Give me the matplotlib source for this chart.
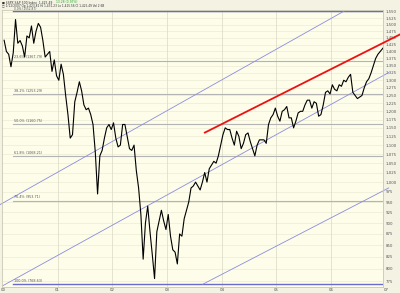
import matplotlib
matplotlib.use("Agg")
import matplotlib.pyplot as plt
import matplotlib.ticker as mticker
import numpy as np

# S&P 500, half-month readings 2000-2006
spx_2000 = [1441, 1400, 1390, 1346, 1395, 1520, 1430, 1440, 1420, 1380, 1457, 1450,
            1495, 1430, 1475, 1505, 1490, 1440, 1380, 1390, 1400, 1330, 1370, 1315]
spx_2001 = [1300, 1355, 1320, 1250, 1190, 1120, 1130, 1230, 1260, 1295, 1265, 1220,
            1205, 1210, 1190, 1160, 1080, 970, 1070, 1085, 1120, 1150, 1160, 1145]
spx_2002 = [1165, 1120, 1095, 1100, 1160, 1160, 1125, 1090, 1085, 1100, 1030, 985,
            920, 820, 900, 940, 880, 830, 780, 880, 905, 930, 905, 885]
spx_2003 = [920, 870, 840, 835, 810, 875, 870, 910, 930, 950, 985, 990,
            1000, 990, 980, 1000, 1025, 1000, 1035, 1045, 1055, 1050, 1070, 1100]
spx_2004 = [1130, 1150, 1145, 1145, 1120, 1100, 1140, 1125, 1090, 1105, 1130, 1135,
            1110, 1090, 1070, 1100, 1115, 1115, 1115, 1105, 1160, 1180, 1190, 1210]
spx_2005 = [1185, 1170, 1200, 1205, 1215, 1180, 1180, 1150, 1170, 1195, 1200, 1200,
            1220, 1235, 1235, 1210, 1230, 1225, 1185, 1190, 1220, 1260, 1265, 1255]
spx_2006 = [1285, 1270, 1265, 1285, 1280, 1300, 1295, 1310, 1320, 1260, 1250, 1240,
            1245, 1250, 1275, 1295, 1305, 1325, 1350, 1375, 1390, 1400, 1410, 1420]
spx_last = [1425]

years = [2000, 2001, 2002, 2003, 2004, 2005, 2006]
year_labels = ["00", "01", "02", "03", "04", "05", "06", "07"]

fib_high = 1552.87
fib_low = 768.63
fib_pcts = [23.6, 38.2, 50.0, 61.8, 76.4]

# trend lines: (start year, start price, end year, end price)
upper_chan = (1999.95, 944, 2006.24, 1554)
mid_chan = (2000.0, 766, 2007.05, 1326)
low_chan = (2003.65, 768.6, 2007.05, 985)
red_line = (2003.69, 1136, 2007.25, 1462)

y_ticks = list(range(775, 1551, 25))

series = []
t = []
for yr, vals in zip(years, [spx_2000, spx_2001, spx_2002, spx_2003,
                            spx_2004, spx_2005, spx_2006]):
    for i, v in enumerate(vals):
        t.append(yr + (i + 0.5) / 24)
        series.append(v)
t.append(2007.01)
series.append(spx_last[0])

fig = plt.figure(figsize=(4, 2.93), dpi=100, facecolor="#f3f2e3")
ax = fig.add_axes([0.005, 0.02, 0.9525, 0.946], facecolor="#fdfdea")

ax.set_yscale("log")
ax.set_ylim(763, 1558)
ax.set_xlim(1999.982, 2006.947)

# grid
for v in y_ticks:
    ax.axhline(v, color="#ecebd4", lw=0.5, zorder=0)
for yr in years[1:]:
    ax.axvline(yr, color="#dedecb", lw=0.6, zorder=0)

# fib levels
for p in fib_pcts:
    lvl = fib_high - (fib_high - fib_low) * p / 100
    ax.plot([2000.18, 2006.947], [lvl, lvl], color="#b4b4b4", lw=0.8, zorder=1)
    ax.text(2000.2, lvl * 1.003, f"{p:.1f}% ({lvl:.2f})", fontsize=2.4,
            color="#555555", va="bottom", ha="left")
ax.plot([2000.18, 2006.947], [fib_high, fib_high], color="#6a6acc", lw=1.0, zorder=2)
ax.plot([2000.18, 2006.947], [fib_low, fib_low], color="#6a6acc", lw=1.0, zorder=2)
ax.text(2000.2, fib_high * 1.0008, f"0.0% ({fib_high:.2f})", fontsize=2.1,
        color="#555555", va="bottom", ha="left")
ax.text(2000.2, fib_low * 1.003, f"100.0% ({fib_low:.2f})", fontsize=2.4,
        color="#555555", va="bottom", ha="left")

for ln in (upper_chan, mid_chan, low_chan):
    ax.plot([ln[0], ln[2]], [ln[1], ln[3]], color="#8c8cdc", lw=0.6, zorder=2,
            clip_on=False)

ax.plot(t, series, color="black", lw=0.8, zorder=3)

ax.plot([red_line[0], red_line[2]], [red_line[1], red_line[3]], color="#ee1111",
        lw=1.3, zorder=4, clip_on=False)

# axes
ax.yaxis.tick_right()
ax.yaxis.set_major_locator(mticker.FixedLocator(y_ticks))
ax.yaxis.set_minor_locator(mticker.NullLocator())
ax.yaxis.set_major_formatter(mticker.FuncFormatter(lambda v, _: f"{v:,.0f}"))
ax.tick_params(axis="y", labelsize=2.8, colors="#555555", length=0, pad=2)
ax.set_xticks(years)
ax.set_xticklabels(year_labels[:-1])
ax.tick_params(axis="x", labelsize=2.8, colors="#555555", length=0, pad=0.5)
ax.text(2007.0, -0.004, year_labels[-1], transform=ax.get_xaxis_transform(),
        fontsize=2.8, color="#555555", ha="center", va="top", clip_on=False)
for s in ax.spines.values():
    s.set_color("#c8c8b4")
    s.set_linewidth(0.6)

fig.text(0.006, 0.999, "\u25a0 $SPX S&P 500 Index  1,425.49", fontsize=2.2,
         color="#333333", va="top")
fig.text(0.14, 0.999, "13.28 (0.97%)", fontsize=2.2, color="#22aa22", va="top")
fig.text(0.006, 0.9855,
         "\u25a1 1/12/2007 Op 1,423.82 Hi 1,431.23 Lo 1,415.56 Cl 1,425.49 Vol 2.6B",
         fontsize=2.1, color="#333333", va="top")

fig.savefig("out.png", dpi=100, facecolor=fig.get_facecolor())
